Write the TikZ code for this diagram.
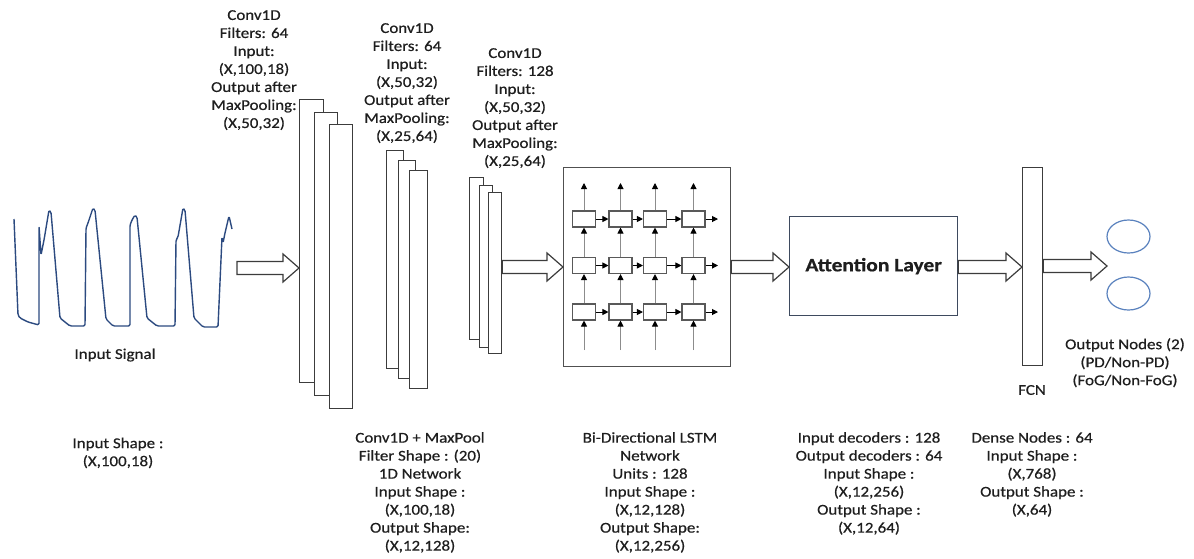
\documentclass[tikz,border=0pt]{standalone}
\usepackage{fontspec}
\setmainfont{Carlito}[FakeStretch=1.13,FakeBold=0.5]
\usetikzlibrary{arrows.meta,calc,shapes.geometric}
\definecolor{txt}{HTML}{1E1E1E}
\definecolor{edge}{HTML}{3C3C3C}
\definecolor{sig}{HTML}{2C4A80}
\definecolor{circ}{HTML}{5A82BE}
\definecolor{attn}{HTML}{3E4A5E}
\definecolor{vline}{HTML}{8C8C8C}
\newcommand{\blockarrow}[2]{%
  \draw[barrow] let \p1=#1, \p2=#2 in
  (\x1,\y1+6.5pt) -- (\x2-16pt,\y1+6.5pt) -- (\x2-16pt,\y1+14pt) -- (\x2,\y1)
  -- (\x2-16pt,\y1-14pt) -- (\x2-16pt,\y1-6.5pt) -- (\x1,\y1-6.5pt) -- cycle;}
\begin{document}
\begin{tikzpicture}[x=1pt,y=-1pt,
  lbl/.style={font=\fontsize{15}{18}\selectfont, text=txt, align=center, inner sep=0pt},
  layer/.style={draw=edge, line width=1.3pt, fill=white, inner sep=0pt, anchor=north west},
  barrow/.style={draw=edge, line width=1.2pt, fill=white, line join=miter},
  cell/.style={draw=edge!85, line width=1.1pt, minimum width=23pt, minimum height=16pt, inner sep=0pt},
  vflow/.style={draw=vline, line width=1pt, -{Triangle[black,length=6pt,width=6pt]}},
  hflow/.style={draw=black, line width=1pt, -{Triangle[length=6pt,width=6pt]}},
  outnode/.style={draw=circ, ellipse, line width=1.2pt, minimum width=43pt, minimum height=33pt, inner sep=0pt}]
\useasboundingbox[fill=white] (0,0) rectangle (1194,558);

% input signal
\draw[sig, line width=1.4pt, line join=round, rounded corners=1.5pt]
  (14,219) -- (18,315) -- (20,318) -- (28,322) -- (39,325) -- (39,226) -- (41,255) -- (44,240)
  -- (49,210) -- (51,212) -- (60,318) -- (70,326) -- (85,326) -- (86,228) -- (88,223)
  -- (93,208) -- (95,210) -- (106,319) -- (113,326) -- (130,326) -- (130,225) -- (132,220)
  -- (135,215) -- (137,217) -- (147,318) -- (157,326) -- (175,326) -- (176,240) -- (178,237)
  -- (183,208) -- (185,210) -- (194,318) -- (203,327) -- (218,327) -- (222,237) -- (223,243)
  -- (225,233) -- (229,216) -- (232,229);
\node[lbl] (siglbl) at (115,355) {Input Signal};

% conv blocks
\node[layer, minimum width=24pt, minimum height=283pt] (c1a) at (299,99) {};
\node[layer, minimum width=23pt, minimum height=283pt] (c1b) at (314,112) {};
\node[layer, minimum width=23pt, minimum height=284pt] (c1c) at (329,124) {};
\node[layer, minimum width=17pt, minimum height=218pt] (c2a) at (386,150) {};
\node[layer, minimum width=17pt, minimum height=218pt] (c2b) at (398,160) {};
\node[layer, minimum width=18pt, minimum height=218pt] (c2c) at (409,170) {};
\node[layer, minimum width=14pt, minimum height=162pt] (c3a) at (469,177) {};
\node[layer, minimum width=13pt, minimum height=162pt] (c3b) at (479,185) {};
\node[layer, minimum width=13pt, minimum height=161pt] (c3c) at (488,192) {};

% LSTM
\node[layer, draw=edge!90, minimum width=167pt, minimum height=199pt] (lstm) at (563,167) {};
\foreach \r/\y in {1/219,2/265.5,3/312}
  \foreach \c/\x in {1/584,2/620.5,3/655,4/693.5}
    \node[cell] (l\r\c) at (\x,\y) {};
\foreach \c/\x in {1/584,2/620.5,3/655,4/693.5}{
  \coordinate (bot\c) at (\x,350);
  \coordinate (top\c) at (\x,183);
  \draw[vflow] (bot\c) -- (l3\c.south);
  \draw[vflow] (l3\c.north) -- (l2\c.south);
  \draw[vflow] (l2\c.north) -- (l1\c.south);
  \draw[vflow] (l1\c.north) -- (top\c);
}
\foreach \r/\y in {1/219,2/265.5,3/312}{
  \coordinate (end\r) at (718,\y);
  \draw[hflow] (l\r1.east) -- (l\r2.west);
  \draw[hflow] (l\r2.east) -- (l\r3.west);
  \draw[hflow] (l\r3.east) -- (l\r4.west);
  \draw[hflow] (l\r4.east) -- (end\r);
}

% attention, FCN, outputs
\node[draw=attn, line width=1.3pt, minimum width=168pt, minimum height=99pt, anchor=north west,
      inner sep=0pt, text=txt, font=\fontsize{19}{22}\selectfont\bfseries] (att) at (789,216) {Attention Layer};
\node[layer, minimum width=20pt, minimum height=198pt] (fcn) at (1022,167) {};
\node[outnode] (o1) at (1128.5,236.5) {};
\node[outnode] (o2) at (1128.5,293.5) {};

% block arrows
\coordinate (a1s) at (237,268);
\coordinate (y267) at (0,267);
\coordinate (y266) at (0,266);
\coordinate (otip) at (1107,266);
\blockarrow{(a1s)}{(c1a.west |- a1s)}
\blockarrow{(c3c.east |- y267)}{(lstm.west |- y267)}
\blockarrow{(lstm.east |- y267)}{(att.west |- y267)}
\blockarrow{(att.east |- y267)}{(fcn.west |- y267)}
\blockarrow{(fcn.east |- y266)}{(otip)}

% top labels
\node[lbl, anchor=north] (t1) at (254,10) {Conv1D\\Filters: 64\\Input:\\(X,100,18)\\Output after\\MaxPooling:\\(X,50,32)};
\node[lbl, anchor=north] (t2) at (407,23) {Conv1D\\Filters: 64\\Input:\\(X,50,32)\\Output after\\MaxPooling:\\(X,25,64)};
\node[lbl, anchor=north] (t3) at (515,48) {Conv1D\\Filters: 128\\Input:\\(X,50,32)\\Output after\\MaxPooling:\\(X,25,64)};

% side labels
\node[lbl] (fcnlbl) at (1032,390) {FCN};
\node[lbl, anchor=north] (outlbl) at (1125,338) {Output Nodes (2)\\(PD/Non-PD)\\(FoG/Non-FoG)};

% bottom labels
\node[lbl, anchor=north] (b0) at (118,437.5) {Input Shape :\\(X,100,18)};
\node[lbl, anchor=north] (b1) at (420,432) {Conv1D + MaxPool\\Filter Shape : (20)\\1D Network\\Input Shape :\\(X,100,18)\\Output Shape:\\(X,12,128)};
\node[lbl, anchor=north] (b2) at (650,432) {Bi-Directional LSTM\\Network\\Units : 128\\Input Shape :\\(X,12,128)\\Output Shape:\\(X,12,256)};
\node[lbl, anchor=north] (b3) at (869,432) {Input decoders : 128\\Output decoders : 64\\Input Shape :\\(X,12,256)\\Output Shape :\\(X,12,64)};
\node[lbl, anchor=north] (b4) at (1032,432) {Dense Nodes : 64\\Input Shape :\\(X,768)\\Output Shape :\\(X,64)};
\end{tikzpicture}
\end{document}
